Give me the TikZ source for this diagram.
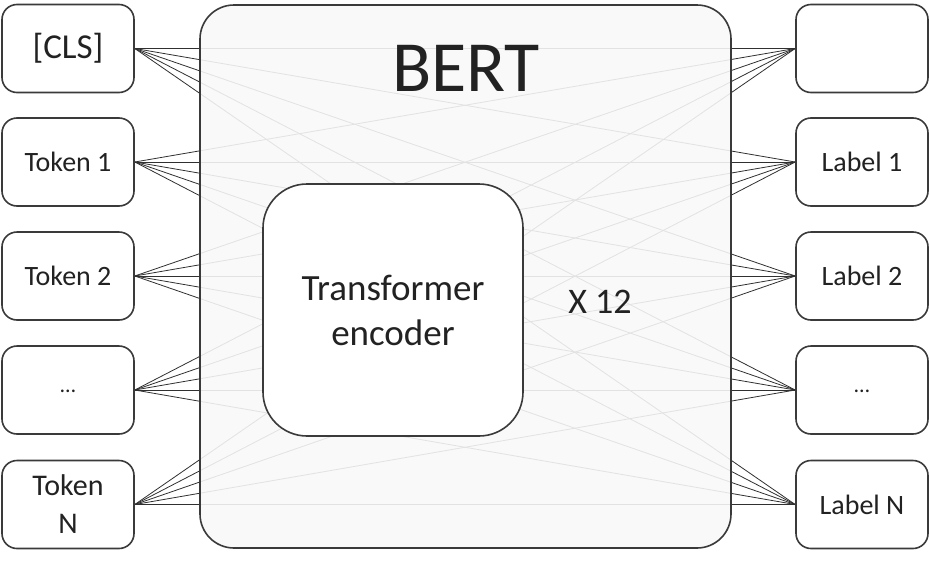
\documentclass[tikz,border=0pt]{standalone}
\usepackage{fontspec}
\setmainfont{Carlito}
\pgfdeclarelayer{lines}
\pgfsetlayers{lines,main}
\definecolor{edge}{HTML}{3A3A3A}
\definecolor{wire}{HTML}{303030}
\definecolor{txt}{HTML}{222222}
\definecolor{bertfill}{HTML}{F8F8F8}
\begin{document}
\begin{tikzpicture}[x=1pt,y=-1pt,
  smallbox/.style={draw=edge,line width=1.6pt,rounded corners=15pt,fill=white,
    minimum width=132pt,minimum height=88pt,inner sep=0pt,align=center,text=txt,
    font=\fontsize{28}{34}\selectfont},
  wirestyle/.style={draw=wire,line width=0.8pt}]
\useasboundingbox (0,0) rectangle (929,565);
% BERT box
\node[draw=edge,line width=1.6pt,rounded corners=34pt,fill=bertfill,fill opacity=0.89,
  minimum width=531pt,minimum height=543pt,inner sep=0pt] (bert) at (465.5,276.5) {};
\node[font=\fontsize{72}{80}\selectfont,inner sep=0pt,text=txt] (bertlbl) at (466,68) {BERT};
\node[draw=edge,line width=1.6pt,rounded corners=44pt,fill=white,text=txt,
  minimum width=260pt,minimum height=252pt,inner sep=0pt,align=center,
  font=\fontsize{37}{45}\selectfont] (enc) at (393,310) {Transformer\\encoder};
\node[font=\fontsize{36}{44}\selectfont,inner sep=0pt,text=txt] (x12) at (600,302) {X 12};
% left boxes
\node[smallbox,font=\fontsize{35}{40}\selectfont] (l1) at (68,48.5) {[CLS]};
\node[smallbox] (l2) at (68,162) {Token 1};
\node[smallbox] (l3) at (68,276) {Token 2};
\node[smallbox] (l4) at (68,390) {\raisebox{-6pt}{\fontsize{22}{26}\selectfont …}};
\node[smallbox,font=\fontsize{30}{38}\selectfont] (l5) at (68,504.5) {Token\\N};
% right boxes
\node[smallbox] (r1) at (862,48.5) {};
\node[smallbox] (r2) at (862,162) {Label 1};
\node[smallbox] (r3) at (862,276) {Label 2};
\node[smallbox] (r4) at (862,390) {\raisebox{-6pt}{\fontsize{22}{26}\selectfont …}};
\node[smallbox] (r5) at (862,504.5) {Label N};
\begin{pgfonlayer}{lines}
\foreach \i in {1,...,5}{
  \foreach \j in {1,...,5}{
    \draw[wirestyle] (l\i.east) -- (r\j.west);
  }
}
\end{pgfonlayer}
\end{tikzpicture}
\end{document}
